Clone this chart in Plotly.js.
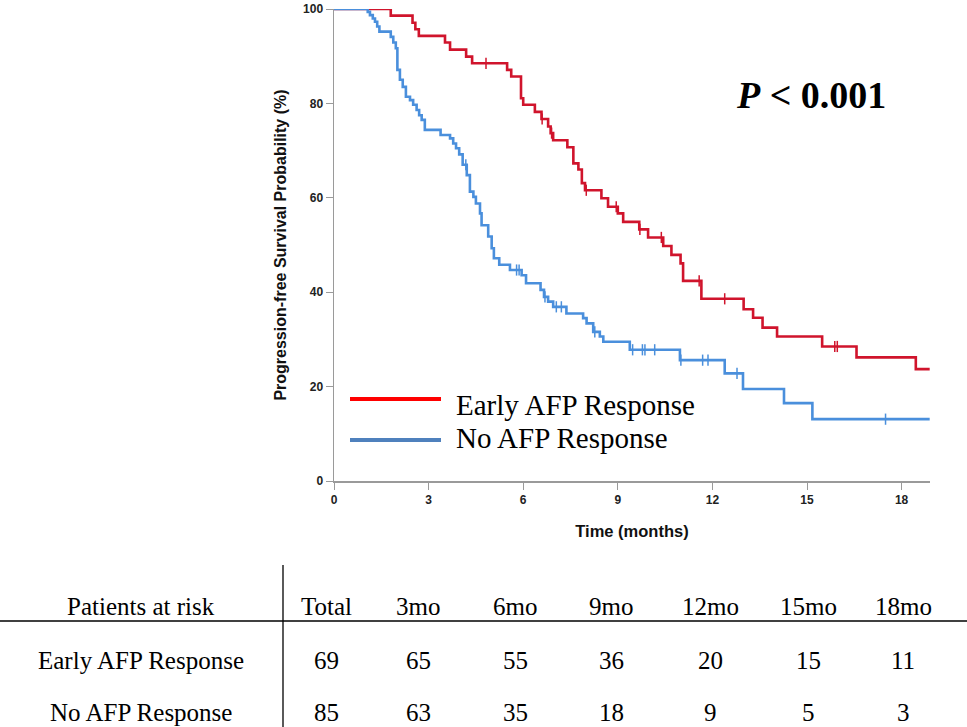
<!DOCTYPE html>
<html>
<head>
<meta charset="utf-8">
<script src="https://cdn.plot.ly/plotly-3.0.1.min.js"></script>
<style>
  html, body { margin: 0; padding: 0; background: #fff; }
  #chart { width: 967px; height: 727px; }
</style>
</head>
<body>
<div id="chart"></div>
<script>
// ---------------- DATA ----------------
const redName = "Early AFP Response";
const blueName = "No AFP Response";

const redTimes = [0, 1.80, 2.49, 2.58, 2.69, 3.52, 3.68, 4.19, 4.38, 5.49, 5.62, 5.93, 6.00, 6.37, 6.58, 6.79, 6.87, 6.95, 7.40, 7.59, 7.75, 7.86, 7.96, 8.48, 8.69, 9.00, 9.17, 9.68, 9.96, 10.44, 10.70, 10.99, 11.07, 11.65, 12.99, 13.29, 13.59, 14.05, 15.48, 16.57, 18.45];
const redSurv  = [100, 98.6, 97.1, 95.7, 94.3, 92.9, 91.4, 89.9, 88.5, 87.1, 85.7, 81.1, 79.7, 78.2, 76.7, 75.1, 73.7, 72.2, 70.7, 67.3, 66.0, 63.1, 61.6, 59.9, 58.1, 56.7, 54.9, 53.3, 51.6, 49.8, 47.9, 46.1, 42.4, 38.6, 36.4, 34.6, 32.5, 30.6, 28.5, 26.2, 23.7];
const redCensor = [4.82, 6.60, 6.90, 8.00, 8.95, 9.70, 10.38, 11.58, 12.39, 15.88, 15.96];
const redEnd = 18.89;

const blueTimes = [0, 1.07, 1.14, 1.23, 1.30, 1.37, 1.44, 1.80, 1.88, 1.96, 2.01, 2.09, 2.18, 2.28, 2.41, 2.51, 2.62, 2.70, 2.78, 2.88, 3.38, 3.68, 3.78, 3.87, 3.97, 4.08, 4.21, 4.31, 4.42, 4.50, 4.63, 4.68, 4.89, 5.00, 5.07, 5.24, 5.58, 5.95, 6.09, 6.55, 6.66, 6.79, 6.95, 7.37, 7.90, 8.01, 8.22, 8.43, 8.54, 9.38, 10.97, 12.39, 12.97, 14.27, 15.17];
const blueSurv  = [100, 99.4, 98.7, 98.0, 97.3, 96.3, 95.2, 94.1, 92.9, 91.7, 87.1, 85.0, 83.5, 81.4, 80.7, 79.7, 78.6, 77.5, 76.5, 74.4, 73.3, 72.6, 71.5, 70.5, 69.2, 67.0, 64.8, 61.3, 60.2, 58.8, 56.7, 54.2, 51.8, 49.3, 47.2, 45.8, 44.7, 43.6, 41.9, 40.5, 39.0, 38.0, 36.9, 35.5, 34.5, 33.4, 31.6, 30.6, 29.5, 27.8, 25.6, 22.8, 19.5, 16.5, 13.1];
const blueCensor = [4.18, 5.79, 5.87, 6.69, 7.05, 7.21, 8.27, 9.47, 9.78, 9.86, 10.17, 11.00, 11.69, 11.86, 12.78, 17.49];
const blueEnd = 18.89;

const xTicks = [0, 3, 6, 9, 12, 15, 18];
const yTicks = [0, 20, 40, 60, 80, 100];

const pText = "<b><i>P</i> &lt; 0.001</b>";

// risk table
const riskHeader = "Patients at risk";
const riskCols = ["Total", "3mo", "6mo", "9mo", "12mo", "15mo", "18mo"];
const riskEarly = [69, 65, 55, 36, 20, 15, 11];
const riskNo = [85, 63, 35, 18, 9, 5, 3];

// ---------------- HELPERS ----------------
function survAt(times, surv, t) {
  let s = surv[0];
  for (let i = 0; i < times.length; i++) { if (times[i] <= t) s = surv[i]; }
  return s;
}
function curveX(times, end) { return times.concat([end]); }
function curveY(surv) { return surv.concat([surv[surv.length - 1]]); }

// layout geometry (pixels)
const W = 967, H = 727;
const M = { l: 334, r: 37, t: 9, b: 246 };
const PW = W - M.l - M.r, PH = H - M.t - M.b;
const px = x => (x - M.l) / PW;        // pixel -> paper x
const py = y => (H - M.b - y) / PH;    // pixel -> paper y

const redCurve = "#d0142c", blueCurve = "#4a8fdc";
const redLegend = "#ff0000", blueLegend = "#4f81bd";
const serif = "Liberation Serif, Times New Roman, serif";
const sans = "Liberation Sans, Arial, sans-serif";

// ---------------- TRACES ----------------
const traces = [
  { x: curveX(redTimes, redEnd), y: curveY(redSurv), mode: "lines", line: { shape: "hv", color: redCurve, width: 2.6 }, name: redName, hoverinfo: "skip" },
  { x: curveX(blueTimes, blueEnd), y: curveY(blueSurv), mode: "lines", line: { shape: "hv", color: blueCurve, width: 2.6 }, name: blueName, hoverinfo: "skip" },
  { x: redCensor, y: redCensor.map(t => survAt(redTimes, redSurv, t)), mode: "markers",
    marker: { symbol: "line-ns-open", size: 8, color: redCurve, line: { color: redCurve, width: 1.5 } }, hoverinfo: "skip" },
  { x: blueCensor, y: blueCensor.map(t => survAt(blueTimes, blueSurv, t)), mode: "markers",
    marker: { symbol: "line-ns-open", size: 8, color: blueCurve, line: { color: blueCurve, width: 1.5 } }, hoverinfo: "skip" }
];

// ---------------- ANNOTATIONS / SHAPES ----------------
const ann = [];
const shapes = [];

// legend (manual)
shapes.push({ type: "line", xref: "paper", yref: "paper", x0: px(350), x1: px(441), y0: py(399), y1: py(399), line: { color: redLegend, width: 4 } });
shapes.push({ type: "line", xref: "paper", yref: "paper", x0: px(350), x1: px(441), y0: py(440), y1: py(440), line: { color: blueLegend, width: 4 } });
ann.push({ xref: "paper", yref: "paper", x: px(454), y: py(405), xanchor: "left", yanchor: "middle", showarrow: false, text: redName, font: { family: serif, size: 29, color: "#000" } });
ann.push({ xref: "paper", yref: "paper", x: px(454), y: py(438), xanchor: "left", yanchor: "middle", showarrow: false, text: blueName, font: { family: serif, size: 29, color: "#000" } });

// P value
ann.push({ xref: "paper", yref: "paper", x: px(811), y: py(95), xanchor: "center", yanchor: "middle", showarrow: false, text: pText, font: { family: serif, size: 38, color: "#000" } });

// risk table
const colX = [326, 418, 515, 611, 710, 808, 903];
const rowY = { head: 606, early: 660, no: 712 };
const tfont = { family: serif, size: 25, color: "#000" };
ann.push({ xref: "paper", yref: "paper", x: px(141), y: py(rowY.head), xanchor: "center", yanchor: "middle", showarrow: false, text: riskHeader, font: tfont });
ann.push({ xref: "paper", yref: "paper", x: px(141), y: py(rowY.early), xanchor: "center", yanchor: "middle", showarrow: false, text: redName, font: tfont });
ann.push({ xref: "paper", yref: "paper", x: px(141), y: py(rowY.no), xanchor: "center", yanchor: "middle", showarrow: false, text: blueName, font: tfont });
riskCols.forEach((c, i) => {
  ann.push({ xref: "paper", yref: "paper", x: px(colX[i]), y: py(rowY.head), xanchor: "center", yanchor: "middle", showarrow: false, text: c, font: tfont });
  ann.push({ xref: "paper", yref: "paper", x: px(colX[i]), y: py(rowY.early), xanchor: "center", yanchor: "middle", showarrow: false, text: String(riskEarly[i]), font: tfont });
  ann.push({ xref: "paper", yref: "paper", x: px(colX[i]), y: py(rowY.no), xanchor: "center", yanchor: "middle", showarrow: false, text: String(riskNo[i]), font: tfont });
});
shapes.push({ type: "line", xref: "paper", yref: "paper", x0: px(0), x1: px(967), y0: py(621), y1: py(621), line: { color: "#000", width: 1.3 } });
shapes.push({ type: "line", xref: "paper", yref: "paper", x0: px(283), x1: px(283), y0: py(565), y1: py(727), line: { color: "#000", width: 1.3 } });

// ---------------- LAYOUT ----------------
const axisCommon = {
  showline: true, linecolor: "#9a9a9a", linewidth: 1.5,
  ticks: "outside", ticklen: 7, tickwidth: 1, tickcolor: "#9a9a9a",
  showgrid: false, zeroline: false,
  tickfont: { family: sans, size: 12, color: "#222", weight: "bold" }
};
const layout = {
  width: W, height: H,
  margin: M,
  paper_bgcolor: "#fff", plot_bgcolor: "#fff",
  showlegend: false,
  xaxis: Object.assign({}, axisCommon, {
    range: [0, 18.9], tickvals: xTicks, ticktext: xTicks.map(String),
    title: { text: "<b>Time (months)</b>", font: { family: sans, size: 16.5, color: "#111" }, standoff: 19 }
  }),
  yaxis: Object.assign({}, axisCommon, {
    range: [0, 100], tickvals: yTicks, ticktext: yTicks.map(String),
    title: { text: "<b>Progression-free Survival Probability (%)</b>", font: { family: sans, size: 16, color: "#111" }, standoff: 12 }
  }),
  annotations: ann,
  shapes: shapes
};

Plotly.newPlot("chart", traces, layout, { staticPlot: true, displayModeBar: false });
</script>
</body>
</html>
